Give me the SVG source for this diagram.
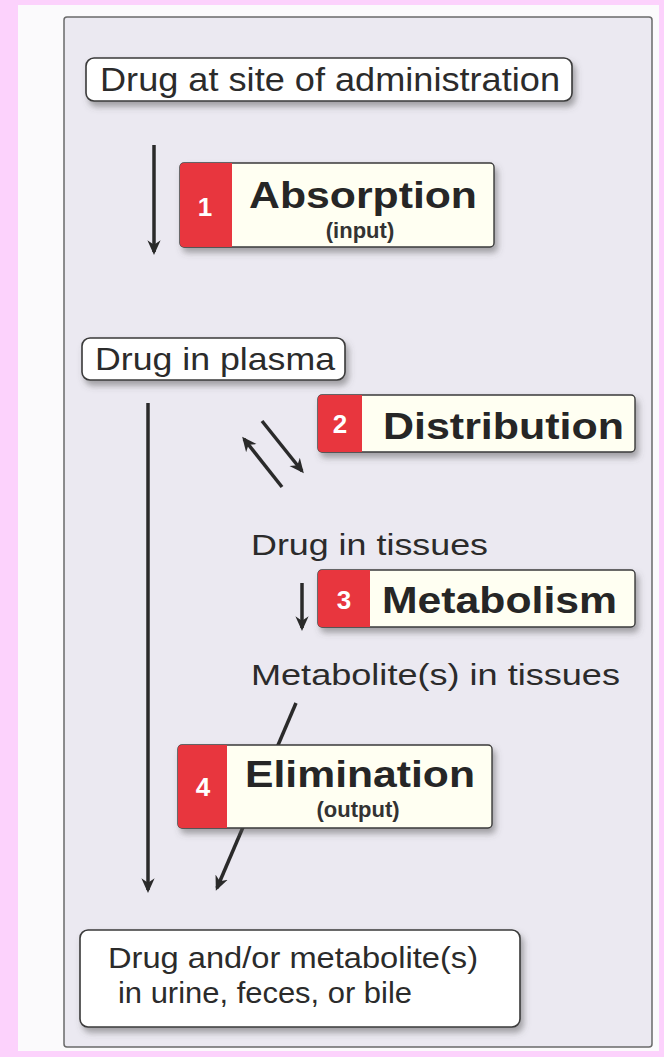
<svg xmlns="http://www.w3.org/2000/svg" width="664" height="1057" viewBox="0 0 664 1057">
<style>
.lbl{font-family:"Liberation Sans",Arial,sans-serif;fill:#2b2b2b}
.box{fill:#ffffff;stroke:#3a3a3a;stroke-width:1.6}
.step{fill:#fffff2;stroke:#3a3a3a;stroke-width:1.4}
.red{fill:#e8363e}
.num{font-family:"Liberation Sans",Arial,sans-serif;font-weight:bold;fill:#ffffff;font-size:26px;text-anchor:middle}
.big{font-family:"Liberation Sans",Arial,sans-serif;font-weight:bold;fill:#262626;font-size:37px}
.sub{font-family:"Liberation Sans",Arial,sans-serif;font-weight:bold;fill:#333;font-size:22px;text-anchor:middle}
.arr{stroke:#2a2a2a;stroke-width:3.5;fill:none;marker-end:url(#ah)}
</style>
<defs>
<marker id="ah" viewBox="0 0 10 10" refX="8" refY="5" markerWidth="4.2" markerHeight="4.2" orient="auto" markerUnits="strokeWidth">
<path d="M0,0.5 L10,5 L0,9.5 L3,5 z" fill="#2a2a2a"/>
</marker>
<filter id="sh" x="-10%" y="-20%" width="125%" height="160%">
<feDropShadow dx="3" dy="5" stdDeviation="3" flood-color="#555" flood-opacity="0.5"/>
</filter>
</defs>
<rect x="0" y="0" width="664" height="1057" fill="#fcd2fc"/>
<rect x="18" y="5" width="641" height="1046" fill="#fbfafc"/>
<rect x="64" y="17" width="588" height="1030" rx="3" fill="#ebe9f1" stroke="#6a6a6a" stroke-width="1.5"/>

<g id="connectors">
<line class="arr" x1="154" y1="145" x2="154" y2="252"/>
<line class="arr" x1="148" y1="403" x2="148" y2="890"/>
<line class="arr" x1="262" y1="421" x2="302" y2="471"/>
<line class="arr" x1="282" y1="487" x2="244" y2="439"/>
<line class="arr" x1="302" y1="583" x2="302" y2="628"/>
<line class="arr" x1="296" y1="703" x2="217" y2="888"/>
</g>

<g id="site">
<rect class="box" x="86" y="58" width="486" height="43" rx="8" filter="url(#sh)"/>
<text class="lbl" x="100" y="91" font-size="34" textLength="460" lengthAdjust="spacingAndGlyphs">Drug at site of administration</text>
</g>

<g id="absorption">
<rect class="step" x="180" y="163" width="314" height="84" rx="4" filter="url(#sh)"/>
<path class="red" d="M184,163 H232 V247 H184 A4,4 0 0 1 180,243 V167 A4,4 0 0 1 184,163 z"/>
<text class="num" x="205" y="216">1</text>
<text class="big" x="249" y="208" textLength="228" lengthAdjust="spacingAndGlyphs">Absorption</text>
<text class="sub" x="360" y="238">(input)</text>
</g>

<g id="plasma">
<rect class="box" x="82" y="338" width="263" height="42" rx="8" filter="url(#sh)"/>
<text class="lbl" x="95" y="370" font-size="32" textLength="240" lengthAdjust="spacingAndGlyphs">Drug in plasma</text>
</g>

<g id="distribution">
<rect class="step" x="318" y="395" width="317" height="57" rx="4" filter="url(#sh)"/>
<path class="red" d="M322,395 H362 V452 H322 A4,4 0 0 1 318,448 V399 A4,4 0 0 1 322,395 z"/>
<text class="num" x="340" y="433">2</text>
<text class="big" x="383" y="439" textLength="241" lengthAdjust="spacingAndGlyphs">Distribution</text>
</g>

<g id="tissues">
<text class="lbl" x="251" y="555" font-size="30" textLength="237" lengthAdjust="spacingAndGlyphs">Drug in tissues</text>
</g>

<g id="metabolism">
<rect class="step" x="318" y="570" width="317" height="57" rx="4" filter="url(#sh)"/>
<path class="red" d="M322,570 H370 V627 H322 A4,4 0 0 1 318,623 V574 A4,4 0 0 1 322,570 z"/>
<text class="num" x="344" y="609">3</text>
<text class="big" x="382" y="613" textLength="235" lengthAdjust="spacingAndGlyphs">Metabolism</text>
</g>

<g id="metabolites">
<text class="lbl" x="251" y="685" font-size="30" textLength="369" lengthAdjust="spacingAndGlyphs">Metabolite(s) in tissues</text>
</g>

<g id="elimination">
<rect class="step" x="178" y="745" width="314" height="83" rx="4" filter="url(#sh)"/>
<path class="red" d="M182,745 H227 V828 H182 A4,4 0 0 1 178,824 V749 A4,4 0 0 1 182,745 z"/>
<text class="num" x="203" y="796">4</text>
<text class="big" x="245" y="787" textLength="230" lengthAdjust="spacingAndGlyphs">Elimination</text>
<text class="sub" x="358" y="817">(output)</text>
</g>

<g id="excreted">
<rect class="box" x="80" y="930" width="440" height="97" rx="8" filter="url(#sh)"/>
<text class="lbl" x="108" y="968" font-size="30" textLength="370" lengthAdjust="spacingAndGlyphs">Drug and/or metabolite(s)</text>
<text class="lbl" x="118" y="1003" font-size="30" textLength="294" lengthAdjust="spacingAndGlyphs">in urine, feces, or bile</text>
</g>
</svg>
